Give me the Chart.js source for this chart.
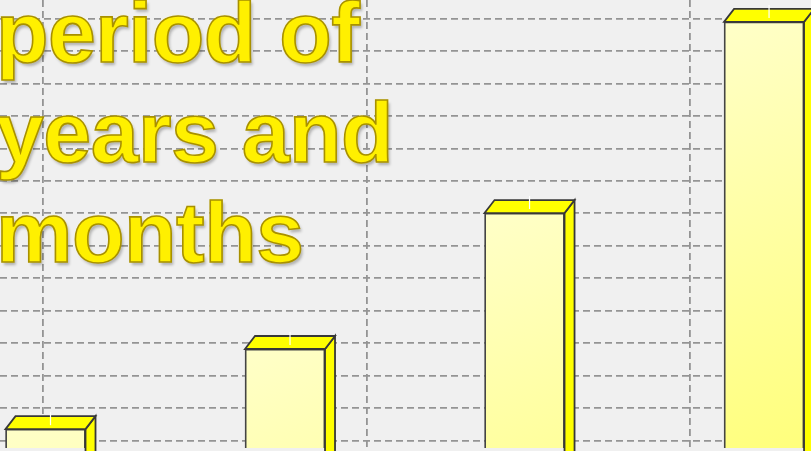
<!DOCTYPE html>
<html>
<head>
<meta charset="utf-8">
<script src="https://cdn.jsdelivr.net/npm/chart.js@4"></script>
<style>
  html, body { margin: 0; padding: 0; background: #f0f0f0; overflow: hidden; }
  #wrap { position: relative; width: 811px; height: 451px; }
  #title {
    position: absolute; left: -4px; top: -18px;
    font: bold 86px "Liberation Sans", Arial, sans-serif;
    line-height: 100px; letter-spacing: -0.5px;
    color: #fff000;
    -webkit-text-stroke: 1.6px #a89000;
    text-shadow: 0 0 2px #fffbb0, 2px 3px 3px rgba(0,0,0,0.28);
    white-space: pre; pointer-events: none;
  }
</style>
</head>
<body>
<div id="wrap">
  <canvas id="c"></canvas>
  <div id="title"></div>
</div>
<script>
// データ
const categories = [1, 2, 3, 4];
const values = [1.35, 3.82, 8.01, 13.9];
const titleLines = ['period of', 'years and', 'months'];

document.getElementById('title').textContent = titleLines.join('\n');

// 3D の上面と側面
const DX = 10, DY = -13;
const bar3d = {
  id: 'bar3d',
  afterDatasetsDraw(chart) {
    const c = chart.ctx;
    chart.getDatasetMeta(0).data.forEach(bar => {
      const { x, y, base, width } = bar.getProps(['x', 'y', 'base', 'width'], true);
      const l = x - width / 2, r = x + width / 2;
      c.save();
      c.lineWidth = 1.8;
      c.strokeStyle = '#383838';
      c.fillStyle = '#ffff00';
      // side
      c.beginPath();
      c.moveTo(r, y); c.lineTo(r + DX, y + DY); c.lineTo(r + DX, base + DY); c.lineTo(r, base);
      c.closePath(); c.fill(); c.stroke();
      // top
      c.beginPath();
      c.moveTo(l, y); c.lineTo(l + DX, y + DY); c.lineTo(r + DX, y + DY); c.lineTo(r, y);
      c.closePath(); c.fill(); c.stroke();
      // small white mark
      c.strokeStyle = '#ffffff';
      c.lineWidth = 1.2;
      c.beginPath(); c.moveTo(x + 5, y + DY - 4); c.lineTo(x + 5, y - 4); c.stroke();
      c.restore();
    });
  }
};

function frontGradient(ctx) {
  const chart = ctx.chart;
  const sx = chart.scales.x, sy = chart.scales.y;
  if (!chart.chartArea || !sx || !sy) return '#ffffa0';
  const cx = sx.getPixelForValue(categories[ctx.dataIndex]);
  const top = sy.getPixelForValue(values[ctx.dataIndex]);
  const g = chart.ctx.createLinearGradient(cx - 40, top, cx + 120, top + 420);
  g.addColorStop(0, '#ffffc8');
  g.addColorStop(1, '#ffff78');
  return g;
}

new Chart(document.getElementById('c'), {
  type: 'bar',
  data: {
    datasets: [{
      data: categories.map((c, i) => ({ x: c, y: values[i] })),
      backgroundColor: frontGradient,
      borderColor: '#444444',
      borderWidth: 1.8,
      barThickness: 80
    }]
  },
  options: {
    responsive: true,
    maintainAspectRatio: false,
    animation: false,
    layout: { padding: { bottom: 3 } },
    plugins: { legend: { display: false }, tooltip: { enabled: false } },
    scales: {
      x: { type: 'linear', min: 0.81, max: 4.196, offset: false, display: false, grid: { offset: false } },
      xg: {
        type: 'linear', position: 'bottom', min: -0.1329, max: 2.374, offset: false,
        ticks: { display: false, stepSize: 1, includeBounds: false },
        grid: { color: '#949494', lineWidth: 1.8, drawTicks: false, offset: false },
        border: { display: false, dash: [7, 4] }
      },
      y: {
        min: 0.7689, max: 14.575,
        ticks: { display: false, stepSize: 1, includeBounds: false },
        grid: { color: '#949494', lineWidth: 1.8, drawTicks: false },
        border: { display: false, dash: [7, 4] }
      }
    }
  },
  plugins: [bar3d]
});
</script>
</body>
</html>
